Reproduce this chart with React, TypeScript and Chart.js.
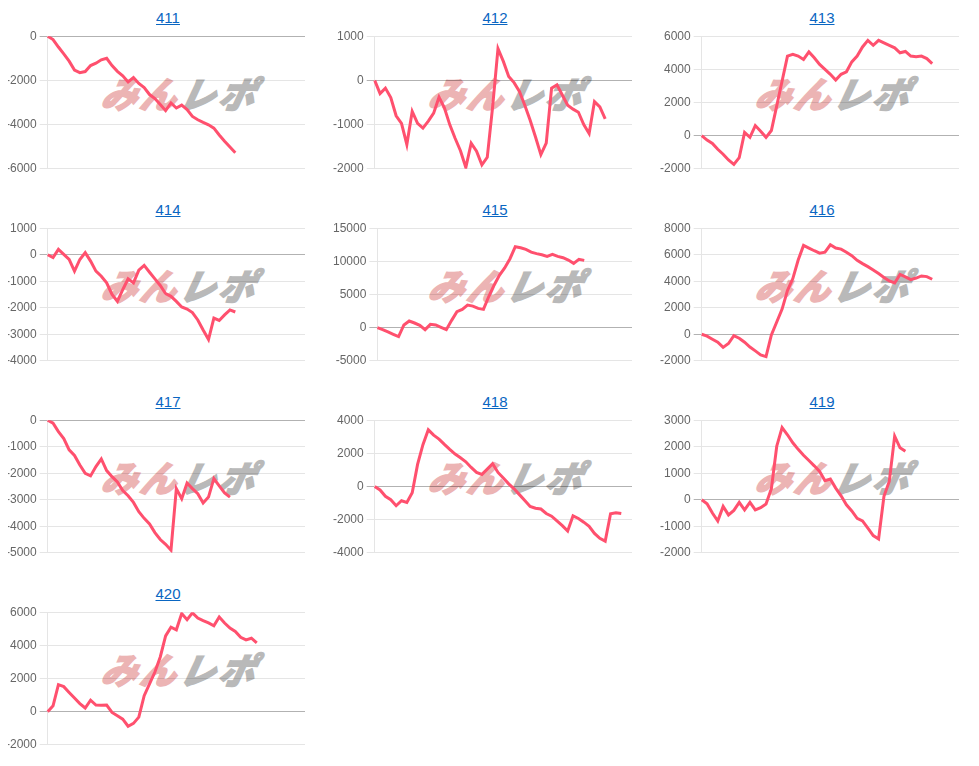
import React, { useEffect, useRef } from 'react';
import { Chart, registerables } from 'chart.js';

Chart.register(...registerables);

// ---- data ----
const titles = ['411', '412', '413', '414', '415', '416', '417', '418', '419', '420'];

const xLabels = [
  '1', '2', '3', '4', '5', '6', '7', '8', '9', '10',
  '11', '12', '13', '14', '15', '16', '17', '18', '19', '20',
  '21', '22', '23', '24', '25', '26', '27', '28', '29', '30',
  '31', '32', '33', '34', '35', '36', '37', '38', '39', '40',
  '41', '42', '43', '44', '45', '46', '47', '48', '49',
];

const s411 = [0, -150, -490, -800, -1130, -1530, -1650, -1600, -1330, -1220, -1070, -1000, -1330, -1590, -1790, -2070, -1870, -2140, -2330, -2640, -2820, -3090, -3370, -3020, -3250, -3120, -3320, -3630, -3780, -3900, -4010, -4160, -4470, -4750, -5010, -5270];
const s412 = [0, -300, -175, -390, -800, -970, -1450, -700, -970, -1080, -920, -740, -380, -620, -1000, -1310, -1590, -1970, -1420, -1600, -1910, -1740, -600, 720, 430, 90, -50, -250, -560, -900, -1280, -1680, -1420, -175, -100, -330, -560, -650, -720, -1000, -1200, -480, -600, -870];
const s413 = [0, -270, -470, -820, -1120, -1470, -1730, -1330, 200, -100, 610, 270, -100, 310, 1800, 3300, 4800, 4900, 4800, 4600, 5050, 4700, 4300, 4000, 3700, 3350, 3700, 3850, 4450, 4800, 5350, 5750, 5450, 5750, 5600, 5450, 5300, 5000, 5080, 4800, 4760, 4800, 4650, 4350];
const s414 = [0, -110, 200, 10, -180, -620, -180, 80, -240, -620, -810, -1060, -1500, -1760, -1320, -910, -1060, -580, -400, -660, -910, -1160, -1470, -1570, -1760, -1970, -2050, -2180, -2460, -2840, -3200, -2390, -2480, -2270, -2080, -2160];
const s415 = [0, -300, -650, -1000, -1350, 400, 1000, 700, 350, -300, 500, 400, 50, -300, 1100, 2400, 2750, 3400, 3250, 2900, 2750, 4700, 6400, 7900, 9000, 10400, 12200, 12050, 11800, 11400, 11170, 11000, 10750, 11050, 10750, 10550, 10200, 9700, 10300, 10150];
const s416 = [0, -140, -370, -590, -990, -700, -100, -300, -600, -960, -1250, -1550, -1680, -50, 930, 1900, 3300, 4200, 5600, 6700, 6500, 6300, 6120, 6190, 6750, 6500, 6420, 6190, 5930, 5580, 5330, 5100, 4850, 4580, 4290, 4020, 3870, 4510, 4330, 4120, 4240, 4400, 4350, 4150];
const s417 = [0, -110, -430, -690, -1120, -1330, -1690, -2000, -2100, -1750, -1460, -1900, -2130, -2330, -2650, -2850, -3100, -3450, -3700, -3910, -4240, -4500, -4680, -4900, -2580, -2960, -2370, -2580, -2770, -3120, -2900, -2200, -2480, -2740, -2900];
const s418 = [0, -210, -590, -800, -1160, -860, -960, -380, 1330, 2520, 3420, 3100, 2860, 2540, 2240, 1960, 1730, 1490, 1150, 850, 730, 1050, 1380, 850, 510, 160, -140, -490, -840, -1200, -1310, -1360, -1630, -1790, -2070, -2360, -2690, -1770, -1930, -2150, -2400, -2830, -3130, -3300, -1640, -1580, -1630];
const s419 = [0, -150, -500, -800, -250, -570, -400, -100, -380, -100, -380, -300, -160, 420, 2020, 2720, 2450, 2150, 1900, 1680, 1480, 1280, 1070, 720, 780, 440, 150, -190, -420, -700, -800, -1070, -1350, -1480, 130, 700, 2400, 1960, 1830];
const s420 = [0, 350, 1630, 1510, 1160, 820, 490, 220, 690, 400, 380, 400, -50, -250, -450, -880, -710, -330, 960, 1670, 2390, 3300, 4570, 5100, 4940, 5920, 5550, 5960, 5650, 5490, 5350, 5180, 5710, 5350, 5040, 4840, 4490, 4330, 4430, 4150];

const seriesList = [s411, s412, s413, s414, s415, s416, s417, s418, s419, s420];
const yMins = [-6000, -2000, -2000, -4000, -5000, -2000, -5000, -4000, -2000, -2000];
const yMaxs = [0, 1000, 6000, 1000, 15000, 8000, 0, 4000, 3000, 6000];
const ySteps = [2000, 1000, 2000, 1000, 5000, 2000, 1000, 2000, 1000, 2000];

const LINE_COLOR = 'rgb(255, 80, 110)';
const FONT = "Arial, 'Liberation Sans', Helvetica, sans-serif";

function MiniChart(props: { idx: number }) {
  const { idx } = props;
  const ref = useRef<HTMLCanvasElement | null>(null);
  useEffect(() => {
    if (!ref.current) return;
    const chart = new Chart(ref.current, {
      type: 'line',
      data: {
        labels: xLabels,
        datasets: [
          {
            data: seriesList[idx],
            borderColor: LINE_COLOR,
            backgroundColor: LINE_COLOR,
            borderWidth: 3,
            pointRadius: 0,
            pointHoverRadius: 0,
            tension: 0,
            fill: false,
          },
        ],
      },
      options: {
        animation: false,
        responsive: true,
        maintainAspectRatio: false,
        layout: { padding: { left: 0, right: 8, top: 0, bottom: 0 } },
        plugins: { legend: { display: false }, tooltip: { enabled: false }, title: { display: false } },
        scales: {
          x: { display: false },
          y: {
            min: yMins[idx],
            max: yMaxs[idx],
            ticks: {
              stepSize: ySteps[idx],
              color: '#666',
              font: { family: FONT, size: 12 },
              callback: (v: any) => String(v),
            },
            grid: {
              color: (ctx: any) => (ctx.tick && ctx.tick.value === 0 ? 'rgba(0,0,0,0.3)' : 'rgba(0,0,0,0.1)'),
            },
            border: { color: 'rgba(0,0,0,0.1)' },
          },
        },
      },
    });
    return () => chart.destroy();
  }, [idx]);

  const col = idx % 3;
  const row = Math.floor(idx / 3);
  return (
    <div style={{ position: 'absolute', left: 3 + 327 * col, top: 192 * row, width: 330, height: 180 }}>
      <div style={{ position: 'absolute', left: 0, top: 8, width: 330, height: 20, lineHeight: '20px', textAlign: 'center' }}>
        <a href="#" style={{ color: '#0a66c2', textDecoration: 'underline', fontSize: 15, fontFamily: FONT }}>
          {titles[idx]}
        </a>
      </div>
      <div
        style={{
          position: 'absolute',
          left: 100,
          top: 73,
          width: 175,
          height: 38,
          zIndex: 0,
          fontFamily: "'Noto Sans CJK JP', sans-serif",
          fontWeight: 900,
          fontStyle: 'italic',
          fontSize: 36,
          lineHeight: '38px',
          letterSpacing: 3,
          whiteSpace: 'nowrap',
          transform: 'skewX(-12deg)',
        }}
      >
        <span style={{ color: '#ecb4b4', WebkitTextStroke: '1.5px #ecb4b4' }}>みん</span>
        <span style={{ color: '#b9b9b9', WebkitTextStroke: '1.5px #b9b9b9' }}>レポ</span>
      </div>
      <div style={{ position: 'absolute', left: 0, top: 26, width: 310, height: 153, zIndex: 1 }}>
        <canvas ref={ref} />
      </div>
    </div>
  );
}

export default function App() {
  return (
    <div style={{ position: 'relative', marginLeft: -8, marginTop: -8, width: 975, height: 750, overflow: 'hidden', background: '#fff' }}>
      {titles.map((_, i) => (
        <MiniChart key={i} idx={i} />
      ))}
    </div>
  );
}
